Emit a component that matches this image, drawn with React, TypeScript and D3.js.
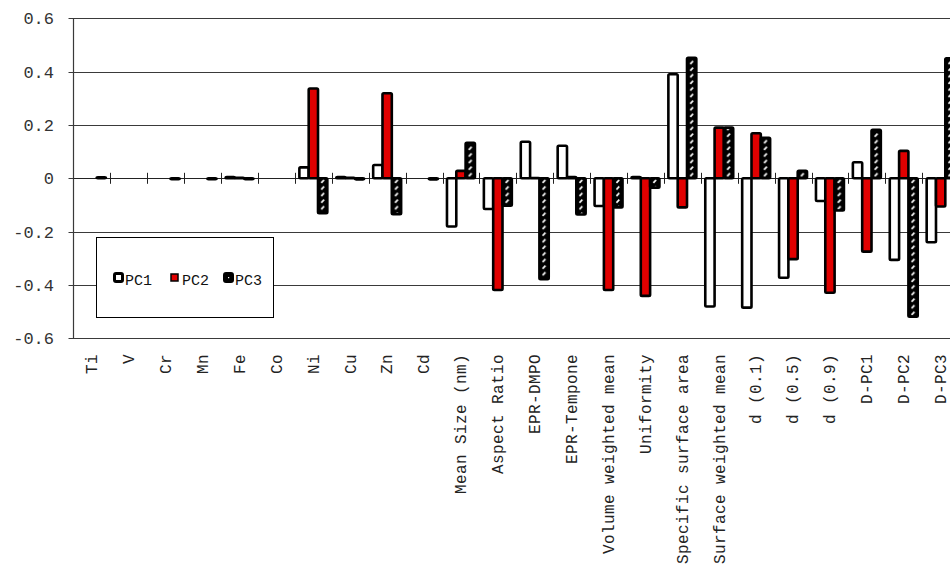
import React from "react";
import * as d3 from "d3";

const categories = [
  "Ti", "V", "Cr", "Mn", "Fe", "Co", "Ni", "Cu", "Zn", "Cd",
  "Mean Size (nm)", "Aspect Ratio", "EPR-DMPO", "EPR-Tempone",
  "Volume weighted mean", "Uniformity", "Specific surface area",
  "Surface weighted mean", "d (0.1)", "d (0.5)", "d (0.9)",
  "D-PC1", "D-PC2", "D-PC3",
];

const seriesNames = ["PC1", "PC2", "PC3"];

const pc1 = [
  0, 0, 0, 0, 0.005, 0, 0.041, 0.005, 0.05, 0,
  -0.181, -0.115, 0.137, 0.122, -0.104, 0.005, 0.39, -0.481,
  -0.485, -0.373, -0.085, 0.06, -0.306, -0.24,
];
const pc2 = [
  0, 0, 0, 0, 0.002, 0, 0.337, 0.002, 0.319, 0,
  0.028, -0.419, 0.001, 0.005, -0.419, -0.441, -0.109, 0.19,
  0.169, -0.303, -0.429, -0.275, 0.103, -0.106,
];
const pc3 = [
  0.004, 0, -0.003, -0.003, -0.003, 0, -0.131, -0.004, -0.135, -0.004,
  0.133, -0.103, -0.378, -0.136, -0.109, -0.035, 0.452, 0.19,
  0.152, 0.028, -0.121, 0.182, -0.519, 0.45,
];

const yTicks = [0.6, 0.4, 0.2, 0, -0.2, -0.4, -0.6];
const yTickLabels = ["0.6", "0.4", "0.2", "0", "-0.2", "-0.4", "-0.6"];

const W = 950;
const H = 564;
const left = 73.5;
const step = 36.9;
const right = left + categories.length * step;
const top = 18.3;
const bottom = 338.3;

const FONT = "'Liberation Mono', 'DejaVu Sans Mono', monospace";

export default function App() {
  const x = d3.scaleBand<string>().domain(categories).range([left, right]).padding(0);
  const xs = d3
    .scaleBand<string>()
    .domain(seriesNames)
    .range([0, x.bandwidth()])
    .paddingInner(0)
    .paddingOuter(0.48);
  const y = d3.scaleLinear().domain([-0.6, 0.6]).range([bottom, top]);

  const data = [pc1, pc2, pc3];
  const fills = ["#ffffff", "#e00000", "url(#hatch)"];

  const pc3Center = (xs("PC3") as number) + xs.bandwidth() / 2;

  return (
    <svg
      width={W}
      height={H}
      style={{ position: "fixed", left: 0, top: 0, background: "#fff" }}
    >
      <defs>
        <pattern
          id="hatch"
          patternUnits="userSpaceOnUse"
          x={left}
          y={y(0)}
          width={x.step()}
          height={6.6}
        >
          <rect x={0} y={0} width={x.step()} height={6.6} fill="#000" />
          <line
            x1={pc3Center - 1.4}
            y1={4.6}
            x2={pc3Center + 1.4}
            y2={1.6}
            stroke="#fff"
            strokeWidth={1.7}
          />
        </pattern>
      </defs>
      <rect x={0} y={0} width={W} height={H} fill="#fff" />

      {/* gridlines */}
      {yTicks
        .filter((t) => t !== 0)
        .map((t) => (
          <line
            key={"g" + t}
            x1={left - 5}
            x2={right}
            y1={Math.round(y(t)) + 0.5}
            y2={Math.round(y(t)) + 0.5}
            stroke="#3a3a3a"
            strokeWidth={1}
          />
        ))}
      <line x1={left - 5} x2={left} y1={Math.round(y(0)) + 0.5} y2={Math.round(y(0)) + 0.5} stroke="#3a3a3a" />

      {/* y axis */}
      <line
        x1={Math.round(left) - 0.5}
        x2={Math.round(left) - 0.5}
        y1={y(0.6)}
        y2={y(-0.6)}
        stroke="#3a3a3a"
        strokeWidth={1.2}
      />
      {yTicks.map((t, i) => (
        <text
          key={"yl" + t}
          x={54}
          y={y(t)}
          dy="0.36em"
          textAnchor="end"
          fontFamily={FONT}
          fontSize={17}
          fill="#333"
        >
          {yTickLabels[i]}
        </text>
      ))}

      {/* zero axis + ticks */}
      <line
        x1={left}
        x2={right}
        y1={Math.round(y(0)) + 0.5}
        y2={Math.round(y(0)) + 0.5}
        stroke="#222"
        strokeWidth={1}
      />
      {categories.slice(1).map((c) => (
        <line
          key={"t" + c}
          x1={Math.round(x(c) as number) + 0.5}
          x2={Math.round(x(c) as number) + 0.5}
          y1={y(0) - 5.5}
          y2={y(0) + 5.5}
          stroke="#222"
          strokeWidth={1}
        />
      ))}

      {/* bars */}
      {categories.map((c, ci) =>
        seriesNames.map((s, si) => {
          const v = data[si][ci];
          if (v === 0) return null;
          const x0 = (x(c) as number) + (xs(s) as number);
          const y0 = Math.min(y(0), y(v));
          const h = Math.abs(y(v) - y(0));
          return (
            <rect
              key={c + s}
              x={x0}
              y={y0}
              width={xs.bandwidth()}
              height={h}
              fill={fills[si]}
              stroke="#000"
              strokeWidth={2.6}
              strokeLinejoin="round"
              rx={1.2}
            />
          );
        })
      )}

      {/* x labels */}
      {categories.map((c) => (
        <text
          key={"xl" + c}
          transform={`translate(${(x(c) as number) + x.bandwidth() / 2 - 0.5},${354}) rotate(-90)`}
          textAnchor="end"
          dy="0.36em"
          fontFamily={FONT}
          fontSize={16}
          letterSpacing={0.4}
          fill="#222"
        >
          {c}
        </text>
      ))}

      {/* legend */}
      <rect x={96.5} y={237.5} width={177} height={80} fill="#fff" stroke="#000" strokeWidth={1} />
      {seriesNames.map((s, i) => {
        const lx = [113, 170, 223][i];
        return (
          <g key={"lg" + s}>
            {i === 1 ? (
              <rect x={lx + 1} y={274} width={7} height={7} fill="#e00000" stroke="#000" strokeWidth={1.5} />
            ) : (
              <rect
                x={lx + 1.5}
                y={273.5}
                width={8}
                height={8}
                fill={i === 0 ? "#fff" : "#000"}
                stroke="#000"
                strokeWidth={3}
                rx={1.5}
              />
            )}
            {i === 2 && <rect x={lx + 5} y={277} width={1.2} height={1.2} fill="#fff" />}
            <text
              x={lx + 12}
              y={280}
              dy="0.36em"
              fontFamily={FONT}
              fontSize={15}
              fill="#111"
            >
              {s}
            </text>
          </g>
        );
      })}
    </svg>
  );
}
